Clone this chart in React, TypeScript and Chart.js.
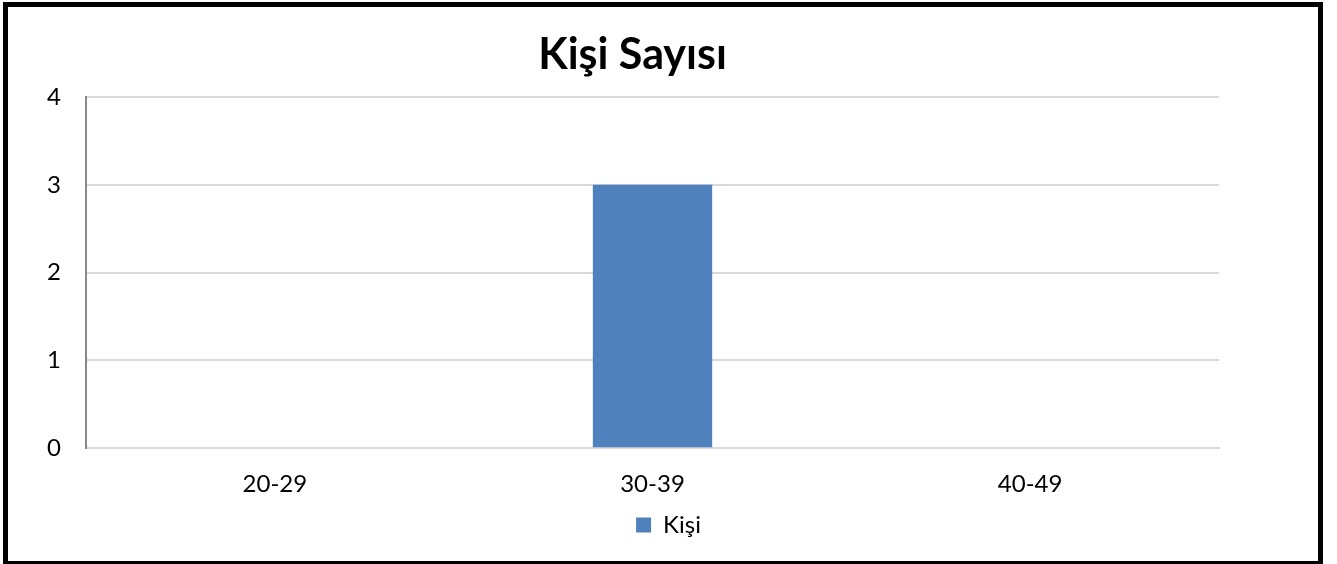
import React, { useEffect, useRef } from "react";
import { Chart, registerables } from "chart.js";

Chart.register(...registerables);

const categories = ["20-29", "30-39", "40-49"];
const kisiValues = [0, 3, 0];
const seriesLabel = "Kişi";
const chartTitle = "Kişi Sayısı";
const yTicks = [0, 1, 2, 3, 4];

const FONT = "Lato, 'Open Sans', sans-serif";

const titlePlugin = {
  id: "customTitle",
  afterDraw(chart: any) {
    const { ctx, chartArea } = chart;
    ctx.save();
    ctx.font = `bold 43px ${FONT}`;
    ctx.fillStyle = "#000";
    ctx.textAlign = "center";
    ctx.textBaseline = "alphabetic";
    const cx = (chartArea.left + chartArea.right) / 2 - 20;
    ctx.fillText(chartTitle, cx, 69);
    ctx.restore();
  },
};

export default function App() {
  const ref = useRef<HTMLCanvasElement>(null);

  useEffect(() => {
    document.body.style.margin = "0";
    const chart = new Chart(ref.current!, {
      type: "bar",
      data: {
        labels: categories,
        datasets: [
          {
            label: seriesLabel,
            data: kisiValues,
            backgroundColor: "#4f81bd",
            borderWidth: 0,
            categoryPercentage: 1,
            barPercentage: 0.316,
          },
        ],
      },
      options: {
        animation: false,
        responsive: false,
        maintainAspectRatio: false,
        layout: { padding: { left: 10, right: 10, top: 97, bottom: 17 } },
        plugins: {
          title: { display: false },
          tooltip: { enabled: false },
          legend: {
            display: true,
            position: "bottom",
            labels: {
              boxWidth: 15,
              boxHeight: 15,
              color: "#000",
              padding: 6,
              font: { family: FONT, size: 24 },
            },
          },
        },
        scales: {
          x: {
            grid: { display: false, drawTicks: false },
            border: { display: true, color: "#d9d9d9", width: 2 },
            afterFit(scale: any) {
              scale.height = scale.height - 14;
            },
            ticks: {
              color: "#000",
              padding: 22,
              font: { family: FONT, size: 24 },
              maxRotation: 0,
            },
          },
          y: {
            min: 0,
            max: 4,
            afterBuildTicks(scale: any) {
              scale.ticks = yTicks.map((v) => ({ value: v }));
            },
            afterFit(scale: any) {
              scale.width = 76;
            },
            grid: { color: "#d9d9d9", lineWidth: 2, drawTicks: false },
            border: { display: true, color: "#898989", width: 2 },
            ticks: {
              color: "#000",
              padding: 25,
              font: { family: FONT, size: 24 },
            },
          },
          yRight: {
            type: "linear",
            position: "right",
            display: true,
            grid: { display: false, drawTicks: false },
            border: { display: false },
            ticks: { display: false },
            afterFit(scale: any) {
              scale.width = 108;
            },
          },
        },
      },
      plugins: [titlePlugin],
    });
    return () => chart.destroy();
  }, []);

  return (
    <div style={{ position: "relative", width: 1337, height: 564, overflow: "hidden", background: "#fff" }}>
      <canvas ref={ref} width={1337} height={564} style={{ display: "block", width: 1337, height: 564 }} />
      <div
        style={{
          position: "absolute",
          left: 3,
          top: 2,
          width: 1320,
          height: 564,
          boxSizing: "border-box",
          border: "5px solid #000",
          pointerEvents: "none",
        }}
      />
    </div>
  );
}
